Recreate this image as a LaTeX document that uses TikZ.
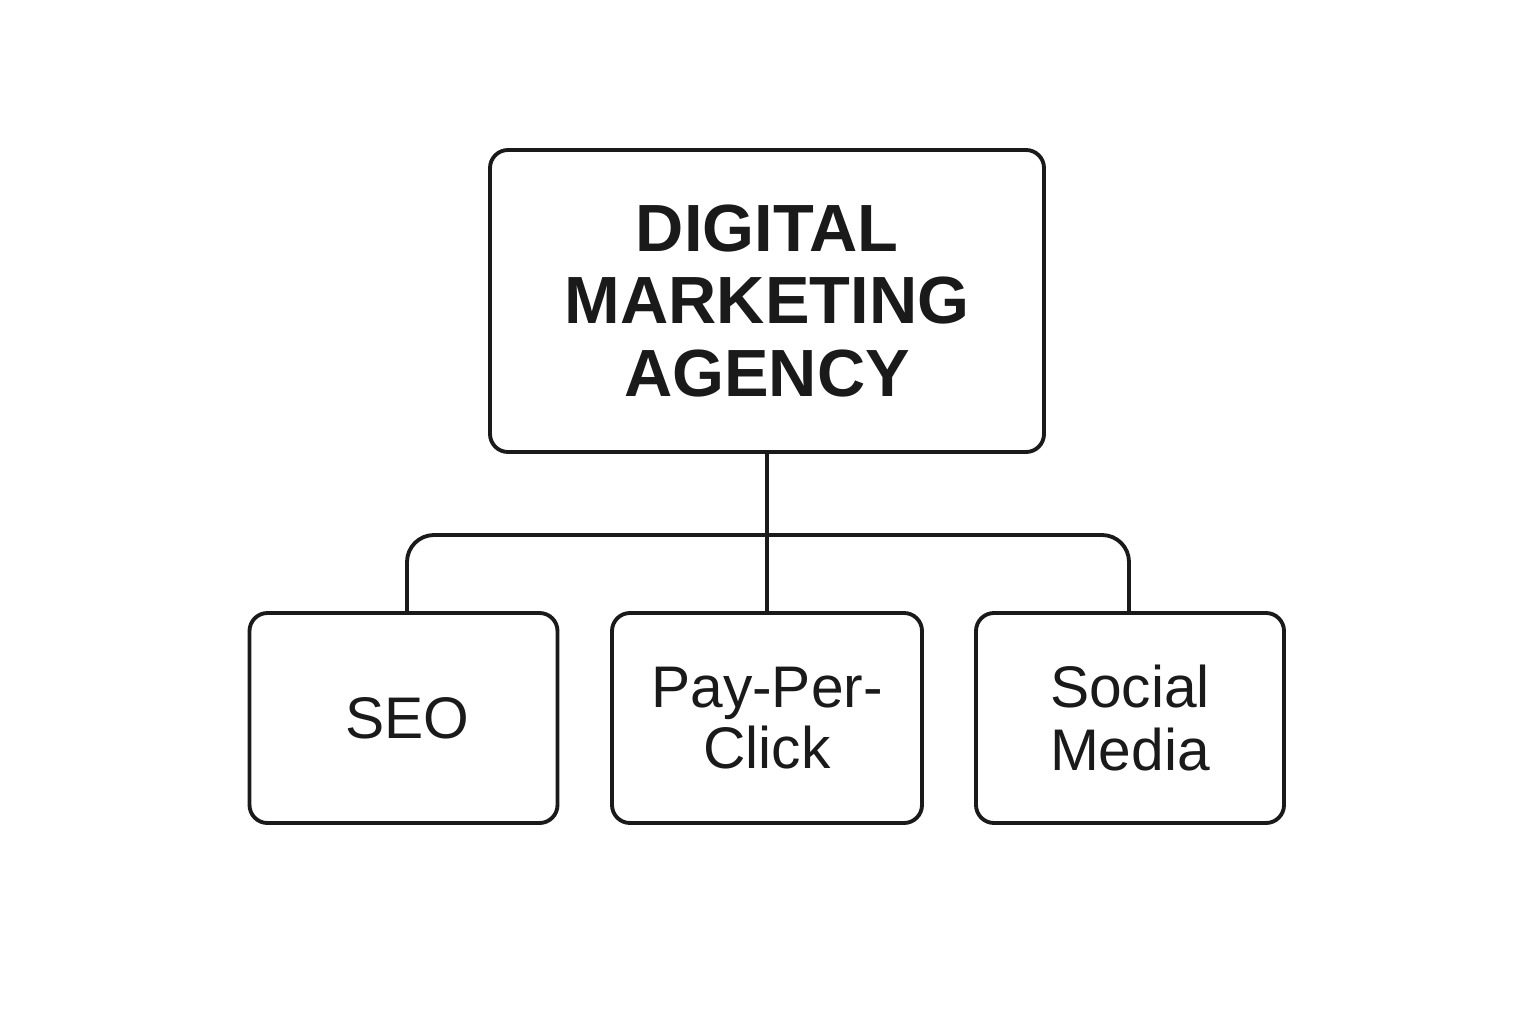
\documentclass[tikz,border=0pt]{standalone}
\usepackage{fontspec}
\setmainfont{Liberation Sans}
\usetikzlibrary{positioning}
\definecolor{ink}{RGB}{26,26,26}

\begin{document}
\begin{tikzpicture}[
    box/.style={draw=ink, text=ink, line width=1.1pt, rounded corners=0.18cm, align=center, inner sep=0pt},
    topbox/.style={box, minimum width=5.54cm, minimum height=3.02cm, font=\fontsize{19}{20.5}\selectfont\bfseries},
    subbox/.style={box, minimum width=3.08cm, minimum height=2.10cm, font=\fontsize{16.7}{18.2}\selectfont},
    link/.style={draw=ink, line width=1.1pt}
  ]
  \useasboundingbox (0,0) rectangle (15.36,10.24);

  % head of the tree
  \node (agency) [topbox] at (7.67,7.23) {DIGITAL\\MARKETING\\AGENCY};

  % the three services
  \node (seo) [subbox] at (4.035,3.06) {\hspace{0.07cm}SEO};
  \node (ppc) [subbox, minimum width=3.10cm] at (7.67,3.06) {\raisebox{-0.03cm}{Pay-Per-}\\Click};
  \node (social) [subbox] at (11.30,3.06) {Social\\Media};

  \coordinate (split) at (7.67,4.89);

  \draw [link] (agency.south) -- (ppc.north);
  \draw [link, rounded corners=0.27cm] ([xshift=0.035cm]seo.north) |- (split) -| ([xshift=-0.01cm]social.north);
\end{tikzpicture}
\end{document}
